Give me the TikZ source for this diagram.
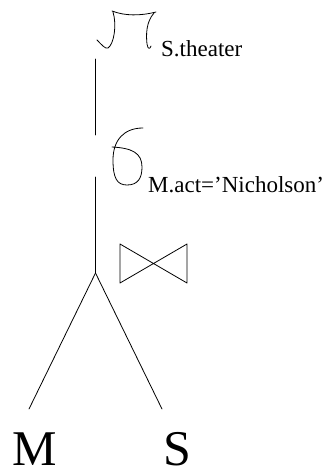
\documentclass[tikz,border=0pt]{standalone}
\usepackage{fontspec}
\setmainfont{Liberation Serif}
\definecolor{qtink}{RGB}{0,0,0}
\def\qtLbl#1#2#3{\node[qtlbl, anchor=base west] (#1) at #2 {#3};}
\def\qtRel#1#2#3{\node[qtrel, anchor=base west] (#1) at #2 {#3};}

\begin{document}
\begin{tikzpicture}[
    x=1pt, y=-1pt,
    qtline/.style = {qtink, line width=0.8pt, line cap=round, line join=round},
    qtlbl/.style  = {font=\fontsize{23}{27}\selectfont, text=qtink, inner sep=0pt},
    qtrel/.style  = {font=\fontsize{50}{58}\selectfont, text=qtink, inner sep=0pt,
                     text depth=0pt}]

  \useasboundingbox (0,0) rectangle (333,475);

  %% ---- projection (hand drawn pi) ----------------------------------
  \draw[qtline] (97,40) .. controls (102,45) and (105,49) .. (108,48)
                        .. controls (114,44) and (117,25) .. (113,12);
  \draw[qtline] (112,11) .. controls (125,16) and (140,16) .. (156,12);
  \draw[qtline] (154,13) .. controls (146,22) and (146,35) .. (147,44)
                        .. controls (148,50) and (150,49) .. (151,46);
  \qtLbl{proj}{(161,56)}{S.theater}

  %% ---- selection (hand drawn sigma) --------------------------------
  \draw[qtline] (143,128) .. controls (124,128) and (113,140) .. (113,160)
                          .. controls (113,178) and (117,185) .. (127,185)
                          .. controls (138,185) and (142,178) .. (142,167)
                          .. controls (142,153) and (132,148) .. (112,147);
  \qtLbl{sel}{(148,192)}{M.act='Nicholson'}

  %% ---- join ---------------------------------------------------------
  \draw[qtline] (120,244) -- (187,283) -- (187,244) -- (120,283) -- cycle;

  %% ---- tree edges ---------------------------------------------------
  \coordinate (projbot) at (95.5,59);
  \coordinate (seltop)  at (95.5,135);
  \coordinate (selbot)  at (95.5,177);
  \coordinate (joinpt)  at (95.5,273);
  \coordinate (mend)    at (29,409);
  \coordinate (send)    at (162,409);
  \draw[qtline] (projbot) -- (seltop);
  \draw[qtline] (selbot) -- (joinpt);
  \draw[qtline] (joinpt) -- (mend);
  \draw[qtline] (joinpt) -- (send);

  %% ---- relations ----------------------------------------------------
  \qtRel{relM}{(12,465)}{M}
  \qtRel{relS}{(163,465)}{S}
\end{tikzpicture}
\end{document}
